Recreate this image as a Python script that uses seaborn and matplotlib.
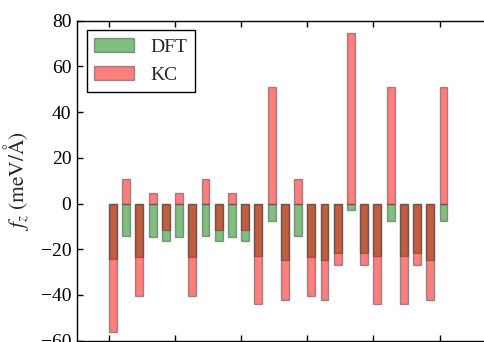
import numpy as np
import pandas as pd
import seaborn as sns
import matplotlib
matplotlib.use("Agg")
import matplotlib.pyplot as plt

# z-component of the force on each atom, DFT reference vs. KC potential
atom_index = list(range(26))
dft_fz = [-24.1, -14.2, -23.4, -14.5, -16.4, -14.5, -23.4, -14.2, -16.4, -14.5,
          -16.4, -22.8, -7.5, -24.7, -14.2, -23.4, -24.7, -21.6, -2.9, -21.6,
          -22.8, -7.5, -22.8, -21.6, -24.7, -7.5]
kc_fz = [-56.3, 10.7, -40.5, 4.8, -11.5, 4.8, -40.5, 10.7, -11.5, 4.8,
         -11.5, -44.0, 50.9, -42.3, 10.7, -40.5, -42.3, -27.0, 74.4, -27.0,
         -44.0, 50.9, -44.0, -27.0, -42.3, 50.9]
y_ticks = [-60, -40, -20, 0, 20, 40, 60, 80]

df = pd.DataFrame({"atom": atom_index, "DFT": dft_fz, "KC": kc_fz})

sns.set_style("ticks")
plt.rcParams["font.family"] = ["Liberation Serif", "DejaVu Serif"]
plt.rcParams["mathtext.fontset"] = "stix"
plt.rcParams["xtick.direction"] = "in"
plt.rcParams["ytick.direction"] = "in"
plt.rcParams["xtick.top"] = True
plt.rcParams["ytick.right"] = True

W, H = 485, 342
fig = plt.figure(figsize=(W / 100, H / 100), dpi=100)
ax_l, ax_r, ax_t, ax_b = 77, 492, 20.7, 340.7
ax = fig.add_axes([ax_l / W, 1 - ax_b / H, (ax_r - ax_l) / W, (ax_b - ax_t) / H])

bar_w = 0.6
bar_kw = dict(width=bar_w, alpha=0.5, edgecolor="#404040", linewidth=1.0,
              saturation=1, native_scale=False, ax=ax)
sns.barplot(data=df, x="atom", y="DFT", color="green", label="DFT", **bar_kw)
sns.barplot(data=df, x="atom", y="KC", color="red", label="KC", **bar_kw)

ax.set_ylim(-60, 80)
ax.set_yticks(y_ticks)
ax.set_xlim(-2.72, 28.67)
ax.set_xticks(np.arange(0, 26, 5) - bar_w / 2)
ax.set_xticklabels([])
ax.set_xlabel("")
ax.set_ylabel(r"$f_z\ (\mathrm{meV/\AA})$", fontsize=15.5, labelpad=7)
ax.tick_params(axis="both", labelsize=14, length=4, width=1, colors="black", pad=4)
for s in ax.spines.values():
    s.set_linewidth(1.0)
    s.set_color("black")

leg = ax.legend(loc="upper left", fontsize=14, frameon=True, fancybox=False,
                edgecolor="black", framealpha=1, handlelength=2.05,
                handleheight=0.75, labelspacing=0.5, borderaxespad=0.5)
leg.get_frame().set_linewidth(1.0)

fig.savefig("out.png", dpi=100)
